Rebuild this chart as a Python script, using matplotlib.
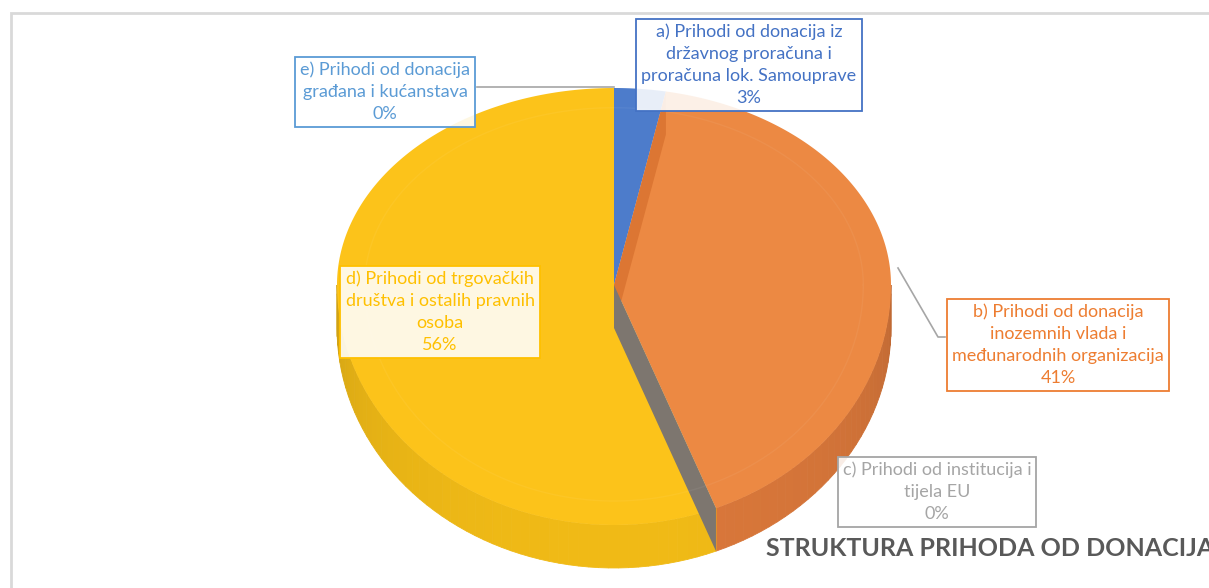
import numpy as np
import matplotlib.pyplot as plt
from matplotlib.patches import Polygon

plt.rcParams['font.family'] = ['Lato', 'DejaVu Sans']

# Data
labels = [
    'a) Prihodi od donacija iz\ndržavnog proračuna i\nproračuna lok. Samouprave',
    'b) Prihodi od donacija\ninozemnih vlada i\nmeđunarodnih organizacija',
    'c) Prihodi od institucija i\ntijela EU',
    'd) Prihodi od trgovačkih\ndruštva i ostalih pravnih\nosoba',
    'e) Prihodi od donacija\ngrađana i kućanstava',
]
shares = [3, 41, 0, 56, 0]
title = 'STRUKTURA PRIHODA OD DONACIJA'

top_colors = ['#4D7CCB', '#EC8943', '#A5A5A5', '#FCC31A', '#5B9BD5']
side_colors = ['#3E66AC', '#D9773A', '#7D766F', '#F0BA16', '#4A84BD']
text_colors = ['#4472C4', '#ED7D31', '#A5A5A5', '#FFC000', '#5B9BD5']

# label box centres (pixels)
label_pos = [(749, 65), (1058, 345), (937, 492), (440, 312), (385, 92)]

# pie geometry (pixels, y downwards)
cx, cy = 614, 285
rx, ry_back, ry_front = 277, 197, 240
depth = 43


def proj(theta, z=0.0):
    t = np.radians(theta)
    s = np.sin(t)
    ry = np.where(s > 0, ry_back, ry_front)
    return cx + rx * np.cos(t), cy - ry * s + z


def shade(color, f):
    c = np.array(plt.matplotlib.colors.to_rgb(color))
    return tuple(np.clip(c * f, 0, 1))


fig = plt.figure(figsize=(12.09, 5.88), dpi=100)
ax = fig.add_axes([0, 0, 1, 1])
ax.set_xlim(0, 1209)
ax.set_ylim(588, 0)
ax.axis('off')

# chart border
ax.plot([11, 11, 1209], [588, 13, 13], color='#D9D9D9', lw=2, solid_joinstyle='miter')

bounds = 90 - 360 * np.concatenate([[0], np.cumsum(shares)]) / sum(shares)

# outer side walls (front half only)
for i in range(len(shares)):
    hi = min(bounds[i], 0)
    lo = max(bounds[i + 1], -180)
    if hi <= lo:
        continue
    edges = np.linspace(hi, lo, max(int((hi - lo) / 2), 2))
    for a0, a1 in zip(edges[:-1], edges[1:]):
        x0, y0 = proj(a0)
        x1, y1 = proj(a1)
        mid = np.radians((a0 + a1) / 2)
        f = 0.86 + 0.14 * abs(np.sin(mid)) ** 0.6
        col = shade(side_colors[i], f)
        ax.add_patch(Polygon([(x0, y0), (x1, y1), (x1, y1 + depth), (x0, y0 + depth)],
                             closed=True, fc=col, ec=col, lw=0.6))

# top faces
for i in [3, 1, 0]:
    if shares[i] == 0:
        continue
    th = np.linspace(bounds[i], bounds[i + 1], 200)
    xs, ys = proj(th)
    pts = [(cx, cy)] + list(zip(xs, ys))
    ax.add_patch(Polygon(pts, closed=True, fc=top_colors[i], ec='none'))

# subtle bevel ring on top face
th = np.linspace(0, 360, 400)
xs, ys = proj(th)
ax.plot(cx + (xs - cx) * 0.9, cy + (ys - cy) * 0.9, color='white', alpha=0.05, lw=1)

# radial walls seen through the slices
walls = [(bounds[1], '#DC7633'), (bounds[2], side_colors[2])]
for ang, col in walls:
    ex, ey = proj(ang)
    ax.add_patch(Polygon([(cx, cy), (ex, ey), (ex, ey + depth), (cx, cy + depth)],
                         closed=True, fc=col, ec='none'))

# leader lines
ex, ey = proj(bounds[4])
ax.plot([477, ex], [ey - 1, ey - 1], color='#A6A6A6', lw=1.2)
ax.plot([898, 938, 945], [268, 337, 337], color='#A6A6A6', lw=1.2)

# data labels
for i in range(len(shares)):
    x, y = label_pos[i]
    ax.text(x, y, '%s\n%d%%' % (labels[i], shares[i]), ha='center', va='center',
            multialignment='center', fontsize=13, linespacing=1.46, color=text_colors[i],
            bbox=dict(boxstyle='square,pad=0.28', fc=(1, 1, 1, 0.88), ec=text_colors[i], lw=1.3))

ax.text(766, 548, title, ha='left', va='center', fontsize=18, fontweight='bold',
        color='#595959')

plt.savefig('out.png', dpi=100)
